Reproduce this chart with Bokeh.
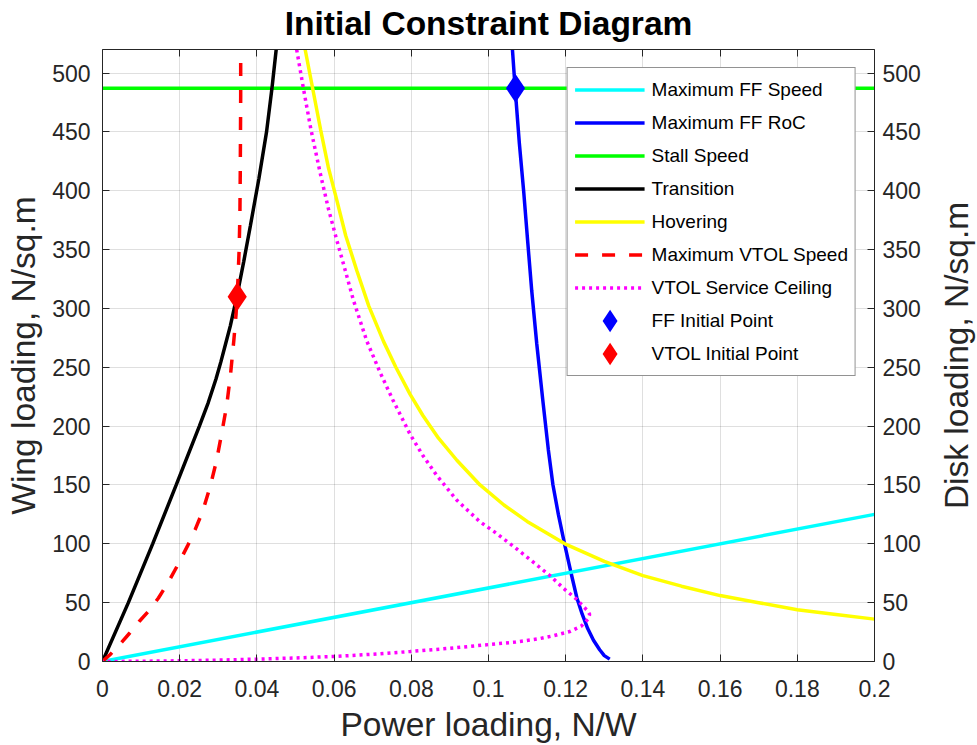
from bokeh.plotting import figure
from bokeh.layouts import row
from bokeh.models import (LinearAxis, FixedTicker, Range1d, Legend, LegendItem,
                          CustomJSTickFormatter)
from bokeh.embed import file_html
from bokeh.resources import INLINE

# ---------------- data ----------------
x_ticks = [0, 0.02, 0.04, 0.06, 0.08, 0.1, 0.12, 0.14, 0.16, 0.18, 0.2]
x_tick_labels = ["0", "0.02", "0.04", "0.06", "0.08", "0.1", "0.12", "0.14", "0.16", "0.18", "0.2"]
y_ticks = [0, 50, 100, 150, 200, 250, 300, 350, 400, 450, 500]

ff_speed_x = [0.0, 0.2]
ff_speed_y = [0.0, 125.0]

ff_roc_x = [0.1062, 0.1069, 0.1080, 0.1091, 0.1102, 0.1112, 0.1125, 0.1141, 0.1155, 0.1167,
            0.1181, 0.1197, 0.1214, 0.1229, 0.1243, 0.1257, 0.1272, 0.1288, 0.1300, 0.1314]
ff_roc_y = [520, 487, 440, 400, 355, 315, 270, 221, 180, 150,
            125, 100, 75, 54, 40, 28, 18, 10, 5, 2]

stall_x = [0.0, 0.2]
stall_y = [487.0, 487.0]

transition_x = [0.0, 0.0067, 0.0130, 0.0191, 0.0251, 0.0274, 0.0294, 0.0307, 0.0319, 0.0331,
                0.0348, 0.0366, 0.0383, 0.0405, 0.0425, 0.0439, 0.0450]
transition_y = [0, 50, 100, 150, 200, 220, 240, 255, 270, 285,
                310, 340, 370, 410, 450, 487, 520]

hover_x = [0.0525, 0.0545, 0.0565, 0.0585, 0.0607, 0.0630, 0.0659, 0.0690, 0.0728, 0.0760,
           0.0797, 0.0830, 0.0870, 0.0918, 0.0978, 0.1040, 0.1100, 0.1198, 0.1300, 0.1400,
           0.1500, 0.1600, 0.1700, 0.1800, 0.1900, 0.2000]
hover_y = [520, 486, 452, 420, 392, 362, 332, 302, 272, 250,
           227, 209, 190, 171, 150, 133, 119, 100, 85, 73,
           64, 56, 50, 44, 40, 36]

vtol_speed_x = [0.0, 0.0020, 0.0045, 0.0070, 0.0095, 0.0120, 0.0145, 0.0170, 0.0195, 0.0220,
                0.0240, 0.0260, 0.0280, 0.0295, 0.0310, 0.0322, 0.0332, 0.0340, 0.0346, 0.0351,
                0.0354, 0.0356, 0.0357, 0.0358, 0.0358]
vtol_speed_y = [0, 6, 14.5, 24, 34, 43, 54, 67, 82, 98,
                112, 128, 150, 170, 196, 218, 245, 272, 295, 325,
                350, 380, 420, 480, 520]

ceiling_x = [0.0503, 0.0521, 0.0540, 0.0564, 0.0585, 0.0607, 0.0630, 0.0650, 0.0685, 0.0720,
             0.0754, 0.0797, 0.0830, 0.0866, 0.0918, 0.0977, 0.1020, 0.1064, 0.1110, 0.1159,
             0.1195, 0.1228, 0.1245, 0.1257, 0.1262, 0.1258, 0.1240, 0.1211, 0.1170, 0.1133,
             0.1070, 0.1004, 0.0900, 0.0797, 0.0700, 0.0603, 0.0500, 0.0400, 0.0300, 0.0200,
             0.0100, 0.0]
ceiling_y = [520, 486, 452, 415, 385, 358, 331, 307, 272, 245,
             221, 193, 175, 158, 137, 119, 109, 98, 86, 73,
             62, 53, 47, 43, 40, 36, 30, 25.5, 22, 19.5,
             16.5, 14.5, 11.2, 8.5, 6.2, 4.3, 3.0, 2.0, 1.2, 0.6,
             0.2, 0.0]

ff_point_x = [0.107]
ff_point_y = [487.0]
vtol_point_x = [0.0349]
vtol_point_y = [310.0]

# ---------------- figure ----------------
FONT = "Liberation Sans"
AX = "#262626"

p = figure(width=925, height=745, output_backend="svg", toolbar_location=None,
           x_range=Range1d(0, 0.2), y_range=Range1d(0, 520),
           min_border_left=102, min_border_right=51, min_border_top=49, min_border_bottom=84,
           x_axis_label="Power loading, N/W", y_axis_label="Wing loading, N/sq.m")
p.outline_line_color = None
p.background_fill_color = "white"
p.title.visible = False

xt = FixedTicker(ticks=x_ticks)
yt = FixedTicker(ticks=y_ticks)


def style_axis(ax, ticker, standoff):
    ax.ticker = ticker
    ax.axis_line_color = AX
    ax.axis_line_width = 1
    ax.major_tick_line_color = AX
    ax.major_tick_in = 7
    ax.major_tick_out = 0
    ax.minor_tick_line_color = None
    ax.major_label_text_font = FONT
    ax.major_label_text_font_size = "23px"
    ax.major_label_text_color = AX
    ax.major_label_standoff = standoff
    ax.axis_label_text_font = FONT
    ax.axis_label_text_font_size = "33.5px"
    ax.axis_label_text_font_style = "normal"
    ax.axis_label_text_color = AX


style_axis(p.xaxis[0], xt, 18)
p.xaxis[0].major_label_overrides = {t: l for t, l in zip(x_ticks, x_tick_labels)}
p.xaxis[0].axis_label_standoff = 6
style_axis(p.yaxis[0], yt, 12)
p.yaxis[0].axis_label_standoff = 7

right = LinearAxis()
style_axis(right, yt, 8)
p.add_layout(right, "right")

# top frame edge (inward ticks) carrying the chart title
top = LinearAxis(axis_label="Initial Constraint Diagram")
style_axis(top, xt, 0)
top.formatter = CustomJSTickFormatter(code="return ''")
top.major_label_text_font_size = "1px"
top.axis_label_text_font_style = "bold"
top.axis_label_text_color = "black"
top.axis_label_standoff = 8
p.add_layout(top, "above")

for g, t in ((p.xgrid, xt), (p.ygrid, yt)):
    g.ticker = t
    g.grid_line_color = AX
    g.grid_line_alpha = 0.15
    g.grid_line_width = 1

LW = 3.5
r_stall = p.line(stall_x, stall_y, line_color="#00ff00", line_width=LW)
r_roc = p.line(ff_roc_x, ff_roc_y, line_color="#0000ff", line_width=LW)
r_speed = p.line(ff_speed_x, ff_speed_y, line_color="#00ffff", line_width=LW)
r_trans = p.line(transition_x, transition_y, line_color="black", line_width=LW)
r_hover = p.line(hover_x, hover_y, line_color="#ffff00", line_width=LW)
r_vspeed = p.line(vtol_speed_x, vtol_speed_y, line_color="#ff0000", line_width=LW, line_dash="13 14")
r_ceil = p.line(ceiling_x, ceiling_y, line_color="#ff00ff", line_width=LW, line_dash="3 4")
r_ffp = p.scatter(ff_point_x, ff_point_y, marker="diamond", size=18, fill_color="#0000ff",
                  line_color="#0000ff", line_width=6, line_join="miter")
r_vp = p.scatter(vtol_point_x, vtol_point_y, marker="diamond", size=18, fill_color="#ff0000",
                 line_color="#ff0000", line_width=6, line_join="miter")

legend = Legend(items=[
    LegendItem(label="Maximum FF Speed", renderers=[r_speed]),
    LegendItem(label="Maximum FF RoC", renderers=[r_roc]),
    LegendItem(label="Stall Speed", renderers=[r_stall]),
    LegendItem(label="Transition", renderers=[r_trans]),
    LegendItem(label="Hovering", renderers=[r_hover]),
    LegendItem(label="Maximum VTOL Speed", renderers=[r_vspeed]),
    LegendItem(label="VTOL Service Ceiling", renderers=[r_ceil]),
    LegendItem(label="FF Initial Point", renderers=[r_ffp]),
    LegendItem(label="VTOL Initial Point", renderers=[r_vp]),
], location="top_right", margin=18, padding=7, spacing=4, glyph_width=70, glyph_height=29,
    label_height=29, label_standoff=7, label_text_font=FONT, label_text_font_size="19px",
    label_text_color="black", border_line_color=AX, border_line_width=1,
    background_fill_color="white", background_fill_alpha=1.0)
p.add_layout(legend)

# narrow companion figure whose left axis title is the right-hand "Disk loading" label
p2 = figure(width=52, height=745, output_backend="svg", toolbar_location=None,
            x_range=Range1d(0, 1), y_range=Range1d(0, 1),
            min_border_left=50, min_border_right=0, min_border_top=49, min_border_bottom=84,
            y_axis_label="Disk loading, N/sq.m")
p2.title.visible = False
p2.outline_line_color = None
p2.xaxis.visible = False
p2.grid.visible = False
ax2 = p2.yaxis[0]
ax2.ticker = FixedTicker(ticks=[])
ax2.axis_line_color = None
ax2.major_tick_line_color = None
ax2.minor_tick_line_color = None
ax2.major_label_standoff = 0
ax2.axis_label_standoff = 1
ax2.axis_label_text_font = FONT
ax2.axis_label_text_font_size = "33.5px"
ax2.axis_label_text_font_style = "normal"
ax2.axis_label_text_color = AX

layout = row(p, p2, spacing=0)
open("out.html", "w").write(file_html(layout, INLINE))
